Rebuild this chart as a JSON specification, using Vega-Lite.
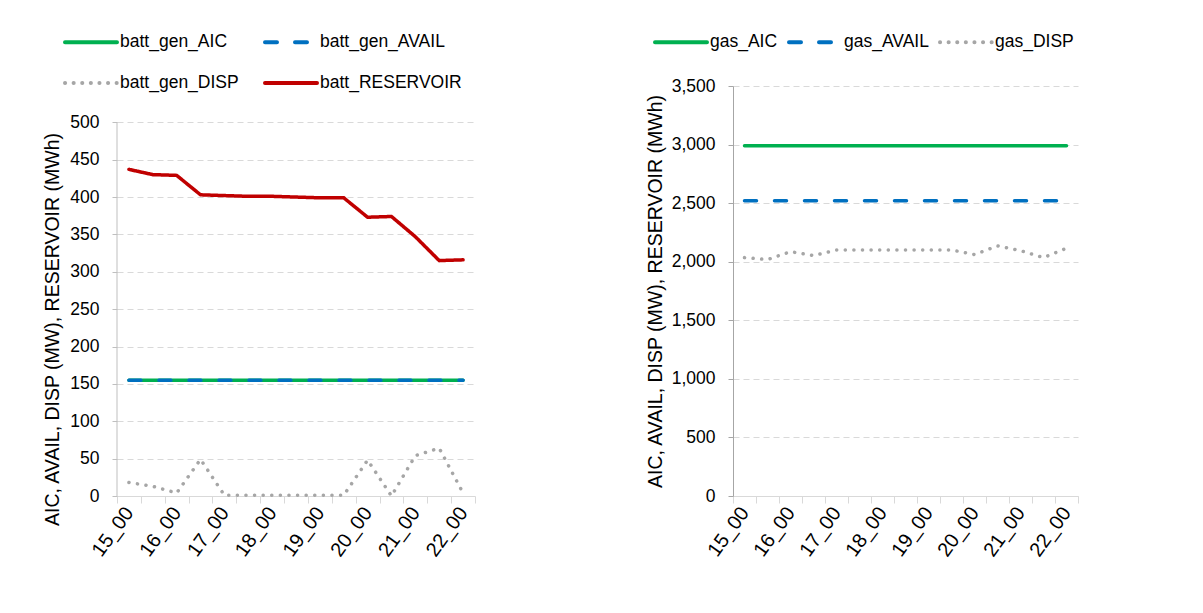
{
  "$schema": "https://vega.github.io/schema/vega-lite/v6.json",
  "background": "white",
  "padding": {"left": 42, "top": 14, "right": 0, "bottom": 0},
  "spacing": 169,
  "config": {
    "font": "Liberation Sans",
    "view": {"stroke": null},
    "axis": {"labelFont": "Liberation Sans", "labelFontSize": 17.5, "labelColor": "#000000", "titleFont": "Liberation Sans", "titleFontSize": 19.5, "titleFontWeight": "normal", "titleColor": "#000000"},
    "axisX": {"labelFontSize": 20},
    "legend": {"labelFont": "Liberation Sans", "labelFontSize": 17.5, "labelColor": "#000000"}
  },
  "resolve": {"scale": {"color": "independent", "strokeDash": "independent", "x": "independent", "y": "independent"}, "legend": {"color": "independent", "strokeDash": "independent"}},
  "hconcat": [
    {
      "width": 358,
      "height": 410,
      "layer": [
        {
          "data": {"values": [
            {"time": "15_00", "series": "batt_gen_AIC", "value": 155},
            {"time": "15_30", "series": "batt_gen_AIC", "value": 155},
            {"time": "16_00", "series": "batt_gen_AIC", "value": 155},
            {"time": "16_30", "series": "batt_gen_AIC", "value": 155},
            {"time": "17_00", "series": "batt_gen_AIC", "value": 155},
            {"time": "17_30", "series": "batt_gen_AIC", "value": 155},
            {"time": "18_00", "series": "batt_gen_AIC", "value": 155},
            {"time": "18_30", "series": "batt_gen_AIC", "value": 155},
            {"time": "19_00", "series": "batt_gen_AIC", "value": 155},
            {"time": "19_30", "series": "batt_gen_AIC", "value": 155},
            {"time": "20_00", "series": "batt_gen_AIC", "value": 155},
            {"time": "20_30", "series": "batt_gen_AIC", "value": 155},
            {"time": "21_00", "series": "batt_gen_AIC", "value": 155},
            {"time": "21_30", "series": "batt_gen_AIC", "value": 155},
            {"time": "22_00", "series": "batt_gen_AIC", "value": 155},
            {"time": "15_00", "series": "batt_gen_AVAIL", "value": 155},
            {"time": "15_30", "series": "batt_gen_AVAIL", "value": 155},
            {"time": "16_00", "series": "batt_gen_AVAIL", "value": 155},
            {"time": "16_30", "series": "batt_gen_AVAIL", "value": 155},
            {"time": "17_00", "series": "batt_gen_AVAIL", "value": 155},
            {"time": "17_30", "series": "batt_gen_AVAIL", "value": 155},
            {"time": "18_00", "series": "batt_gen_AVAIL", "value": 155},
            {"time": "18_30", "series": "batt_gen_AVAIL", "value": 155},
            {"time": "19_00", "series": "batt_gen_AVAIL", "value": 155},
            {"time": "19_30", "series": "batt_gen_AVAIL", "value": 155},
            {"time": "20_00", "series": "batt_gen_AVAIL", "value": 155},
            {"time": "20_30", "series": "batt_gen_AVAIL", "value": 155},
            {"time": "21_00", "series": "batt_gen_AVAIL", "value": 155},
            {"time": "21_30", "series": "batt_gen_AVAIL", "value": 155},
            {"time": "22_00", "series": "batt_gen_AVAIL", "value": 155},
            {"time": "15_00", "series": "batt_gen_DISP", "value": 18},
            {"time": "15_30", "series": "batt_gen_DISP", "value": 13},
            {"time": "16_00", "series": "batt_gen_DISP", "value": 4},
            {"time": "16_30", "series": "batt_gen_DISP", "value": 49},
            {"time": "17_00", "series": "batt_gen_DISP", "value": 1},
            {"time": "17_30", "series": "batt_gen_DISP", "value": 1},
            {"time": "18_00", "series": "batt_gen_DISP", "value": 1},
            {"time": "18_30", "series": "batt_gen_DISP", "value": 1},
            {"time": "19_00", "series": "batt_gen_DISP", "value": 1},
            {"time": "19_30", "series": "batt_gen_DISP", "value": 1},
            {"time": "20_00", "series": "batt_gen_DISP", "value": 48},
            {"time": "20_30", "series": "batt_gen_DISP", "value": 0},
            {"time": "21_00", "series": "batt_gen_DISP", "value": 54},
            {"time": "21_30", "series": "batt_gen_DISP", "value": 64},
            {"time": "22_00", "series": "batt_gen_DISP", "value": 4},
            {"time": "15_00", "series": "batt_RESERVOIR", "value": 437},
            {"time": "15_30", "series": "batt_RESERVOIR", "value": 430},
            {"time": "16_00", "series": "batt_RESERVOIR", "value": 429},
            {"time": "16_30", "series": "batt_RESERVOIR", "value": 403},
            {"time": "17_00", "series": "batt_RESERVOIR", "value": 402},
            {"time": "17_30", "series": "batt_RESERVOIR", "value": 401},
            {"time": "18_00", "series": "batt_RESERVOIR", "value": 401},
            {"time": "18_30", "series": "batt_RESERVOIR", "value": 400},
            {"time": "19_00", "series": "batt_RESERVOIR", "value": 399},
            {"time": "19_30", "series": "batt_RESERVOIR", "value": 399},
            {"time": "20_00", "series": "batt_RESERVOIR", "value": 373},
            {"time": "20_30", "series": "batt_RESERVOIR", "value": 374},
            {"time": "21_00", "series": "batt_RESERVOIR", "value": 347},
            {"time": "21_30", "series": "batt_RESERVOIR", "value": 315},
            {"time": "22_00", "series": "batt_RESERVOIR", "value": 316}
          ]},
          "mark": {"type": "line", "strokeWidth": 3.5, "strokeCap": "round"},
          "encoding": {
            "x": {"field": "time", "type": "ordinal", "bandPosition": 0.5, "title": null,
              "scale": {"type": "band", "paddingInner": 0, "paddingOuter": 0},
              "axis": {"labelAngle": -54, "labelAlign": "right", "labelBaseline": "middle", "labelPadding": 6, "labelOverlap": false,
                "labelExpr": "indexof(datum.label, '_30') >= 0 ? '' : datum.label",
                "tickBand": "extent", "tickSize": 7, "tickColor": "#d9d9d9", "domainColor": "#d9d9d9", "grid": false}},
            "y": {"field": "value", "type": "quantitative", "title": "AIC, AVAIL, DISP (MW), RESERVOIR (MWh)",
              "scale": {"domain": [0, 548.6], "nice": false},
              "axis": {"values": [0, 50, 100, 150, 200, 250, 300, 350, 400, 450, 500], "tickSize": 5, "tickColor": "#bfbfbf", "domain": false, "labelPadding": 13, "titlePadding": 7, "titleY": 243,
                "grid": true, "gridColor": "#d9d9d9", "gridDash": [6, 4], "gridWidth": 1}},
            "color": {"field": "series", "type": "nominal",
              "scale": {"domain": ["batt_gen_AIC", "batt_gen_AVAIL", "batt_gen_DISP", "batt_RESERVOIR"], "range": ["#00b050", "#0070c0", "#a6a6a6", "#c00000"]},
              "legend": {"title": null, "orient": "none", "legendX": -54, "legendY": -72, "direction": "horizontal", "columns": 2, "symbolType": "stroke", "symbolSize": 2704, "symbolStrokeWidth": 4, "labelOffset": 1, "columnPadding": 18, "rowPadding": 4,
                "encode": {"symbols": {"update": {"strokeCap": {"value": "round"}}}}}},
            "strokeDash": {"field": "series", "type": "nominal",
              "scale": {"domain": ["batt_gen_AIC", "batt_gen_AVAIL", "batt_gen_DISP", "batt_RESERVOIR"], "range": [[1, 0], [12, 18], [0.1, 8.5], [1, 0]]},
              "legend": {"title": null, "orient": "none", "legendX": -54, "legendY": -72, "direction": "horizontal", "columns": 2, "symbolType": "stroke", "symbolSize": 2704, "symbolStrokeWidth": 4, "labelOffset": 1, "columnPadding": 18, "rowPadding": 4,
                "encode": {"symbols": {"update": {"strokeCap": {"value": "round"}}}}}}
          }
        },
        {
          "data": {"values": [{}]},
          "mark": {"type": "rule", "color": "#bfbfbf", "strokeWidth": 1},
          "encoding": {
            "x": {"datum": "15_00", "bandPosition": 0},
            "y": {"datum": 0},
            "y2": {"datum": 500}
          }
        }
      ]
    },
    {
      "width": 345,
      "height": 410,
      "data": {"values": [
        {"time": "15_00", "series": "gas_AIC", "value": 2990},
        {"time": "15_30", "series": "gas_AIC", "value": 2990},
        {"time": "16_00", "series": "gas_AIC", "value": 2990},
        {"time": "16_30", "series": "gas_AIC", "value": 2990},
        {"time": "17_00", "series": "gas_AIC", "value": 2990},
        {"time": "17_30", "series": "gas_AIC", "value": 2990},
        {"time": "18_00", "series": "gas_AIC", "value": 2990},
        {"time": "18_30", "series": "gas_AIC", "value": 2990},
        {"time": "19_00", "series": "gas_AIC", "value": 2990},
        {"time": "19_30", "series": "gas_AIC", "value": 2990},
        {"time": "20_00", "series": "gas_AIC", "value": 2990},
        {"time": "20_30", "series": "gas_AIC", "value": 2990},
        {"time": "21_00", "series": "gas_AIC", "value": 2990},
        {"time": "21_30", "series": "gas_AIC", "value": 2990},
        {"time": "22_00", "series": "gas_AIC", "value": 2990},
        {"time": "15_00", "series": "gas_AVAIL", "value": 2520},
        {"time": "15_30", "series": "gas_AVAIL", "value": 2520},
        {"time": "16_00", "series": "gas_AVAIL", "value": 2520},
        {"time": "16_30", "series": "gas_AVAIL", "value": 2520},
        {"time": "17_00", "series": "gas_AVAIL", "value": 2520},
        {"time": "17_30", "series": "gas_AVAIL", "value": 2520},
        {"time": "18_00", "series": "gas_AVAIL", "value": 2520},
        {"time": "18_30", "series": "gas_AVAIL", "value": 2520},
        {"time": "19_00", "series": "gas_AVAIL", "value": 2520},
        {"time": "19_30", "series": "gas_AVAIL", "value": 2520},
        {"time": "20_00", "series": "gas_AVAIL", "value": 2520},
        {"time": "20_30", "series": "gas_AVAIL", "value": 2520},
        {"time": "21_00", "series": "gas_AVAIL", "value": 2520},
        {"time": "21_30", "series": "gas_AVAIL", "value": 2520},
        {"time": "22_00", "series": "gas_AVAIL", "value": 2520},
        {"time": "15_00", "series": "gas_DISP", "value": 2035},
        {"time": "15_30", "series": "gas_DISP", "value": 2018},
        {"time": "16_00", "series": "gas_DISP", "value": 2086},
        {"time": "16_30", "series": "gas_DISP", "value": 2052},
        {"time": "17_00", "series": "gas_DISP", "value": 2100},
        {"time": "17_30", "series": "gas_DISP", "value": 2100},
        {"time": "18_00", "series": "gas_DISP", "value": 2100},
        {"time": "18_30", "series": "gas_DISP", "value": 2100},
        {"time": "19_00", "series": "gas_DISP", "value": 2100},
        {"time": "19_30", "series": "gas_DISP", "value": 2100},
        {"time": "20_00", "series": "gas_DISP", "value": 2061},
        {"time": "20_30", "series": "gas_DISP", "value": 2135},
        {"time": "21_00", "series": "gas_DISP", "value": 2095},
        {"time": "21_30", "series": "gas_DISP", "value": 2035},
        {"time": "22_00", "series": "gas_DISP", "value": 2115}
      ]},
      "mark": {"type": "line", "strokeWidth": 3.5, "strokeCap": "round"},
      "encoding": {
        "x": {"field": "time", "type": "ordinal", "bandPosition": 0.5, "title": null,
          "scale": {"type": "band", "paddingInner": 0, "paddingOuter": 0},
          "axis": {"labelAngle": -54, "labelAlign": "right", "labelBaseline": "middle", "labelPadding": 6, "labelOverlap": false,
            "labelExpr": "indexof(datum.label, '_30') >= 0 ? '' : datum.label",
            "tickBand": "extent", "tickSize": 7, "tickColor": "#d9d9d9", "domainColor": "#d9d9d9", "grid": false}},
        "y": {"field": "value", "type": "quantitative", "title": "AIC, AVAIL, DISP (MW), RESERVOIR (MWh)",
          "scale": {"domain": [0, 3500], "nice": false},
          "axis": {"values": [0, 500, 1000, 1500, 2000, 2500, 3000, 3500], "format": ",d", "tickSize": 5, "tickColor": "#a6a6a6", "domainColor": "#a6a6a6", "labelPadding": 13, "titlePadding": 6,
            "grid": true, "gridColor": "#d9d9d9", "gridDash": [6, 4], "gridWidth": 1}},
        "color": {"field": "series", "type": "nominal",
          "scale": {"domain": ["gas_AIC", "gas_AVAIL", "gas_DISP"], "range": ["#00b050", "#0070c0", "#a6a6a6"]},
          "legend": {"title": null, "orient": "none", "legendX": -80, "legendY": -72, "direction": "horizontal", "columns": 3, "symbolType": "stroke", "symbolSize": 2704, "symbolStrokeWidth": 4, "labelOffset": 1, "columnPadding": 3,
            "encode": {"symbols": {"update": {"strokeCap": {"value": "round"}}}}}},
        "strokeDash": {"field": "series", "type": "nominal",
          "scale": {"domain": ["gas_AIC", "gas_AVAIL", "gas_DISP"], "range": [[1, 0], [12, 18], [0.1, 8.5]]},
          "legend": {"title": null, "orient": "none", "legendX": -80, "legendY": -72, "direction": "horizontal", "columns": 3, "symbolType": "stroke", "symbolSize": 2704, "symbolStrokeWidth": 4, "labelOffset": 1, "columnPadding": 3,
            "encode": {"symbols": {"update": {"strokeCap": {"value": "round"}}}}}}
      }
    }
  ]
}
